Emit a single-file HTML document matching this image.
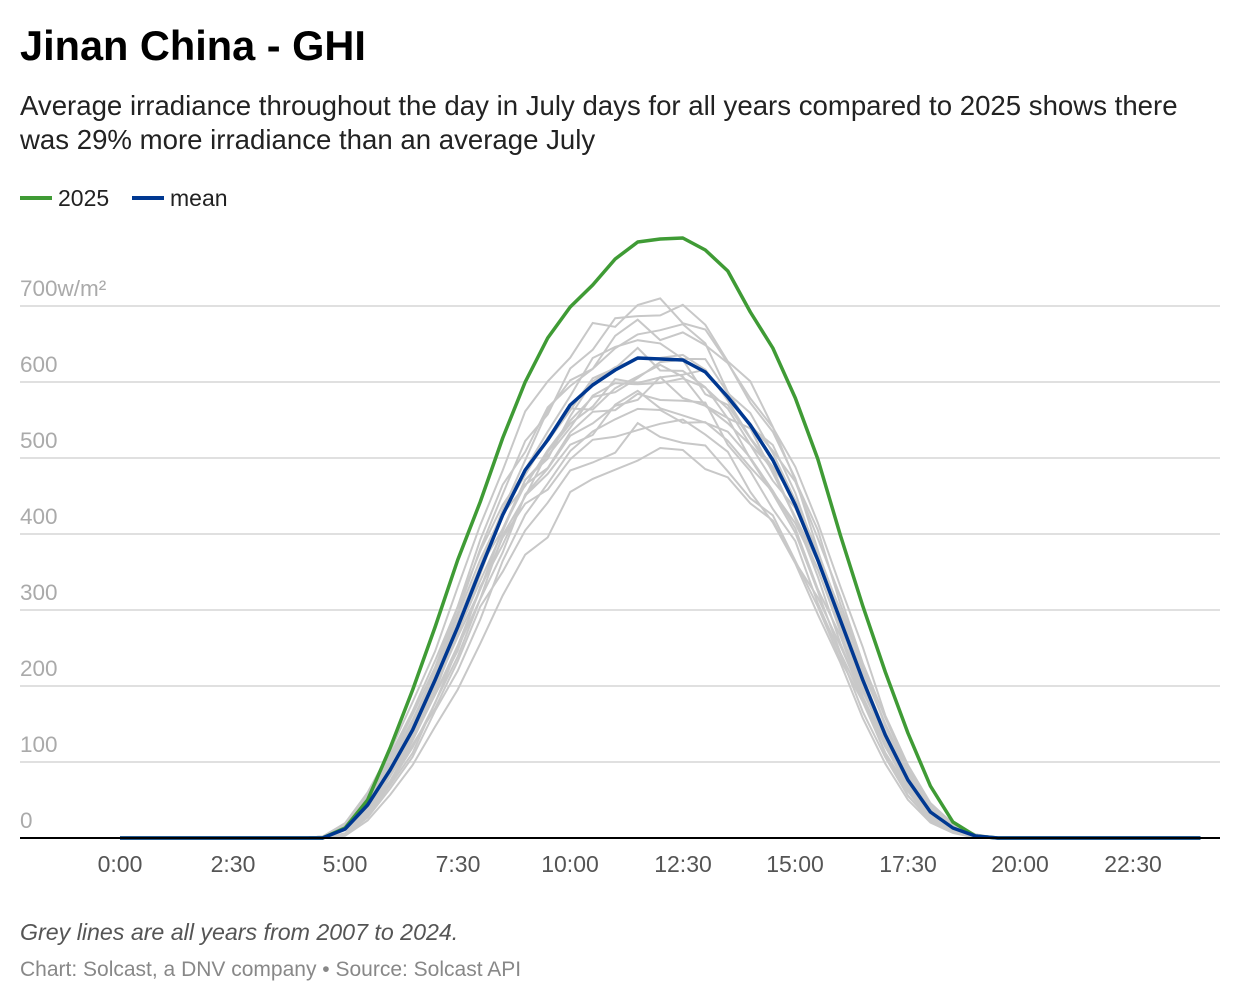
<!DOCTYPE html>
<html><head><meta charset="utf-8"><style>
body{margin:0;background:#fff;font-family:"Liberation Sans",sans-serif;}
svg text{font-family:"Liberation Sans",sans-serif;}
</style></head><body>
<svg id="s" width="1240" height="1002" xmlns="http://www.w3.org/2000/svg">
<rect width="1240" height="1002" fill="#fff"/>
<text x="20" y="60" font-size="41.5" font-weight="bold" fill="#000">Jinan China - GHI</text>
<text x="20" y="115" font-size="27.6" fill="#222">Average irradiance throughout the day in July days for all years compared to 2025 shows there</text>
<text x="20" y="149" font-size="27.6" fill="#222">was 29% more irradiance than an average July</text>
<line x1="20" y1="198" x2="52" y2="198" stroke="#3f9b35" stroke-width="4"/>
<text x="58" y="206" font-size="23" fill="#222">2025</text>
<line x1="132" y1="198" x2="164" y2="198" stroke="#003891" stroke-width="4"/>
<text x="170" y="206" font-size="23" fill="#222">mean</text>
<g stroke="#e0e0e0" stroke-width="2">
<line x1="20" y1="306" x2="1220" y2="306"/><line x1="20" y1="382" x2="1220" y2="382"/>
<line x1="20" y1="458" x2="1220" y2="458"/><line x1="20" y1="534" x2="1220" y2="534"/>
<line x1="20" y1="610" x2="1220" y2="610"/><line x1="20" y1="686" x2="1220" y2="686"/>
<line x1="20" y1="762" x2="1220" y2="762"/>
</g>
<g font-size="22.5" fill="#aaa">
<text x="20" y="296">700w/m²</text><text x="20" y="372">600</text><text x="20" y="448">500</text>
<text x="20" y="524">400</text><text x="20" y="600">300</text><text x="20" y="676">200</text>
<text x="20" y="752">100</text><text x="20" y="828">0</text>
</g>
<g id="grey" fill="none" stroke="#c8c8c8" stroke-width="2"></g>
<polyline id="green" fill="none" stroke="#3f9b35" stroke-width="3.5" stroke-linejoin="round"/>
<polyline id="mean" fill="none" stroke="#003891" stroke-width="3.5" stroke-linejoin="round"/>
<line x1="20" y1="838" x2="1220" y2="838" stroke="#000" stroke-width="2"/>
<g font-size="23" fill="#555" text-anchor="middle">
<text x="120" y="872">0:00</text><text x="233" y="872">2:30</text><text x="345" y="872">5:00</text>
<text x="458" y="872">7:30</text><text x="570" y="872">10:00</text><text x="683" y="872">12:30</text>
<text x="795" y="872">15:00</text><text x="908" y="872">17:30</text><text x="1020" y="872">20:00</text>
<text x="1133" y="872">22:30</text>
</g>
<text x="20" y="940" font-size="23.2" font-style="italic" fill="#555">Grey lines are all years from 2007 to 2024.</text>
<text x="20" y="976" font-size="21" fill="#888">Chart: Solcast, a DNV company • Source: Solcast API</text>
</svg>
<script>
var X0=120,dx=22.51;
function pts(d){var a=[];for(var i=0;i<49;i++){var y=d[i]!==undefined?d[i]:838;a.push((X0+i*dx).toFixed(1)+","+y.toFixed(1));}return a.join(" ");}
var green={9:838,10:828,11:800,12:748,13:690,14:627,15:560,16:502,17:438,18:382,19:338,20:307,21:285,22:259,23:242,24:239,25:238,26:250,27:271,28:312,29:348,30:398,31:459,32:535,33:606,34:672,35:733,36:786,37:822,38:836};
var mean={9:838,10:829,11:805,12:770,13:730,14:680,15:627,16:570,17:515,18:470,19:440,20:405,21:385,22:370,23:358,24:359,25:360,26:372,27:397,28:425,29:460,30:505,31:560,32:620,33:680,34:735,35:780,36:812,37:828,38:836};
document.getElementById('green').setAttribute('points',pts(green));
document.getElementById('mean').setAttribute('points',pts(mean));
var fs=[0.80,0.84,0.87,0.89,0.91,0.93,0.94,0.95,0.96,0.97,0.98,0.99,1.0,1.03,1.05,1.07,1.09,1.11];
var g=document.getElementById('grey');var seed=7;function r(){seed=(seed*9301+49297)%233280;return seed/233280-0.5;}
fs.forEach(function(f,k){var d={};var sh=(k%3-1)*0.3;for(var i=9;i<=38;i++){var b=mean[i]!==undefined?mean[i]:838;var v=(838-b)*f;if(i>12&&i<36)v*=1+r()*0.06;v+= sh*((mean[i+1]||838)-(mean[i-1]||838))*-0.5;d[i]=Math.min(838,838-Math.max(0,v));}
var p=document.createElementNS('http://www.w3.org/2000/svg','polyline');p.setAttribute('points',pts(d));g.appendChild(p);});
</script>
</body></html>
